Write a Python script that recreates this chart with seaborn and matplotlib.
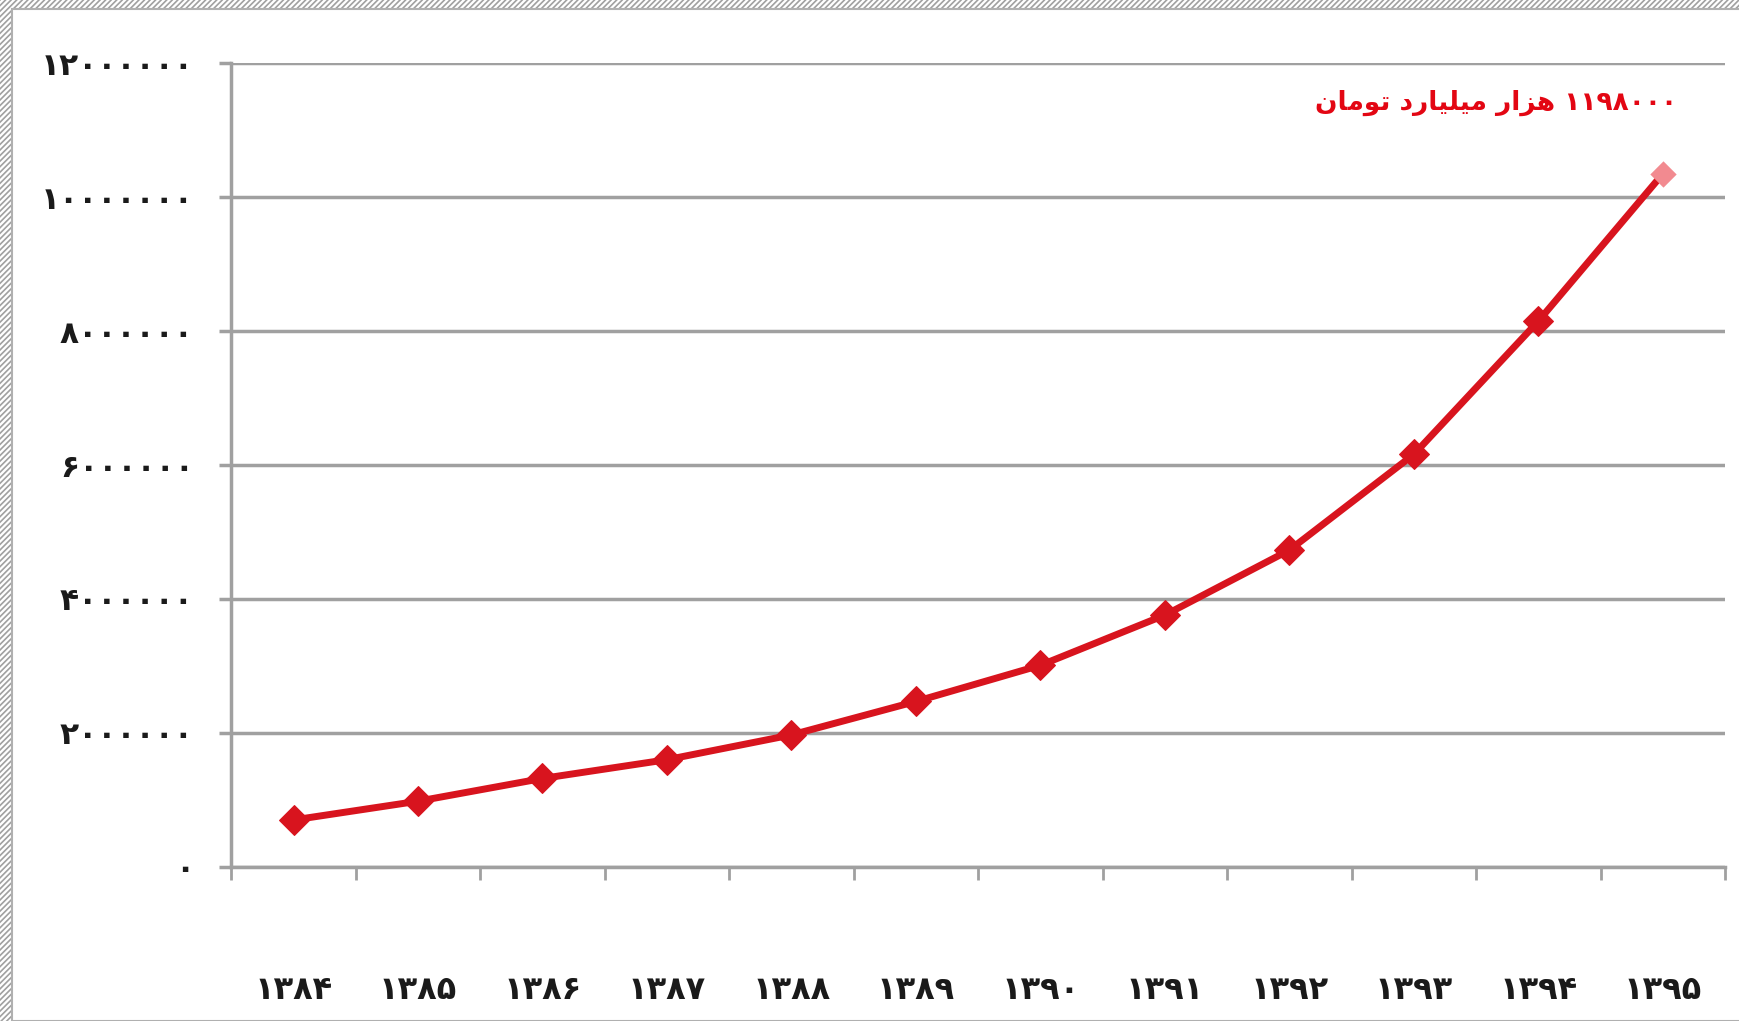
import pandas as pd
import seaborn as sns
import matplotlib.pyplot as plt
from matplotlib.patches import Rectangle

# data
years = ["1384", "1385", "1386", "1387", "1388", "1389",
         "1390", "1391", "1392", "1393", "1394", "1395"]
values = [700000, 980000, 1320000, 1600000, 1970000, 2470000,
          3010000, 3760000, 4730000, 6160000, 8150000, 10350000]
y_ticks = [0, 2000000, 4000000, 6000000, 8000000, 10000000, 12000000]
note = "1198000 هزار میلیارد تومان"

FA_DIGITS = str.maketrans("0123456789", "۰۱۲۳۴۵۶۷۸۹")

# minimal Persian shaping (matplotlib has no complex text layout)
FORMS = {  # iso, fin, ini, med
    "ه": ("\uFEE9", "\uFEEA", "\uFEEB", "\uFEEC"),
    "م": ("\uFEE1", "\uFEE2", "\uFEE3", "\uFEE4"),
    "ی": ("\uFEEF", "\uFEF0", "\uFEF3", "\uFEF4"),
    "ل": ("\uFEDD", "\uFEDE", "\uFEDF", "\uFEE0"),
    "ت": ("\uFE95", "\uFE96", "\uFE97", "\uFE98"),
    "ن": ("\uFEE5", "\uFEE6", "\uFEE7", "\uFEE8"),
    "ز": ("\uFEAF", "\uFEB0", None, None),
    "ا": ("\uFE8D", "\uFE8E", None, None),
    "ر": ("\uFEAD", "\uFEAE", None, None),
    "د": ("\uFEA9", "\uFEAA", None, None),
    "و": ("\uFEED", "\uFEEE", None, None),
}


def shape_word(word):
    out = []
    for i, ch in enumerate(word):
        if ch not in FORMS:
            out.append(ch)
            continue
        prev_joins = i > 0 and word[i - 1] in FORMS and FORMS[word[i - 1]][2] is not None
        next_joins = i < len(word) - 1 and word[i + 1] in FORMS and FORMS[ch][2] is not None
        iso, fin, ini, med = FORMS[ch]
        if prev_joins and next_joins:
            out.append(med)
        elif prev_joins:
            out.append(fin)
        elif next_joins:
            out.append(ini)
        else:
            out.append(iso)
    return "".join(reversed(out))


def shape_fa(text):
    words = []
    for w in text.split(" "):
        if w.isdigit():
            words.append(w.translate(FA_DIGITS))
        else:
            words.append(shape_word(w))
    return " ".join(reversed(words))


df = pd.DataFrame({"year": years, "value": values})

sns.set_style("white")
plt.rcParams["font.family"] = ["DejaVu Sans"]
plt.rcParams["hatch.linewidth"] = 1.2

fig = plt.figure(figsize=(17.39, 10.21), dpi=100)

# hatched frame on the left and top edges
fig.patches.append(Rectangle((0, 0), 1, 1, transform=fig.transFigure,
                             facecolor="white", edgecolor="#a0a0a0",
                             hatch="//////", linewidth=0, zorder=-2))
fig.patches.append(Rectangle((12 / 1739, 0), 1, 1 - 9 / 1021, transform=fig.transFigure,
                             facecolor="white", edgecolor="#b0b0b0",
                             linewidth=1.5, zorder=-1))

ax = fig.add_axes([0.133, 0.151, 0.859, 0.787])
ax.set_facecolor("none")

red = "#d8141e"
sns.lineplot(data=df.iloc[:-1], x="year", y="value", ax=ax, color=red,
             linewidth=5, marker="D", markersize=15, markeredgecolor=red,
             sort=False, zorder=3)
sns.lineplot(data=df.iloc[-2:], x="year", y="value", ax=ax, color=red,
             linewidth=5, sort=False, zorder=3)
sns.scatterplot(data=df.iloc[-1:], x="year", y="value", ax=ax,
                color="#f28a90", marker="D", s=180, linewidth=0, zorder=4)

ax.set_xlim(-0.5, len(years) - 0.5)
ax.set_ylim(0, 12000000)
ax.set_xlabel("")
ax.set_ylabel("")

# grid and spines
ax.set_yticks(y_ticks)
ax.set_yticklabels([str(v).translate(FA_DIGITS) for v in y_ticks],
                   fontsize=22.5, fontweight="bold", color="#1a1a1a")
ax.yaxis.grid(True, color="#a0a0a0", linewidth=2.5)
ax.set_axisbelow(True)
ax.tick_params(axis="y", left=True, length=9, width=2.5, color="#a0a0a0", pad=18)

ax.set_xticks(range(len(years)))
ax.set_xticklabels([y.translate(FA_DIGITS) for y in years],
                   fontsize=23, fontweight="bold", color="#1a1a1a")
ax.tick_params(axis="x", which="major", length=0, pad=78)
ax.set_xticks([i - 0.5 for i in range(len(years) + 1)], minor=True)
ax.tick_params(axis="x", which="minor", bottom=True, length=9, width=2, color="#a0a0a0")

for side in ["top", "right"]:
    ax.spines[side].set_visible(False)
for side in ["left", "bottom"]:
    ax.spines[side].set_color("#a0a0a0")
    ax.spines[side].set_linewidth(2.5)

ax.text(0.968, 0.951, shape_fa(note), transform=ax.transAxes,
        ha="right", va="center", fontsize=19, fontweight="bold", color="#e30613")

fig.savefig("out.png", dpi=100)
